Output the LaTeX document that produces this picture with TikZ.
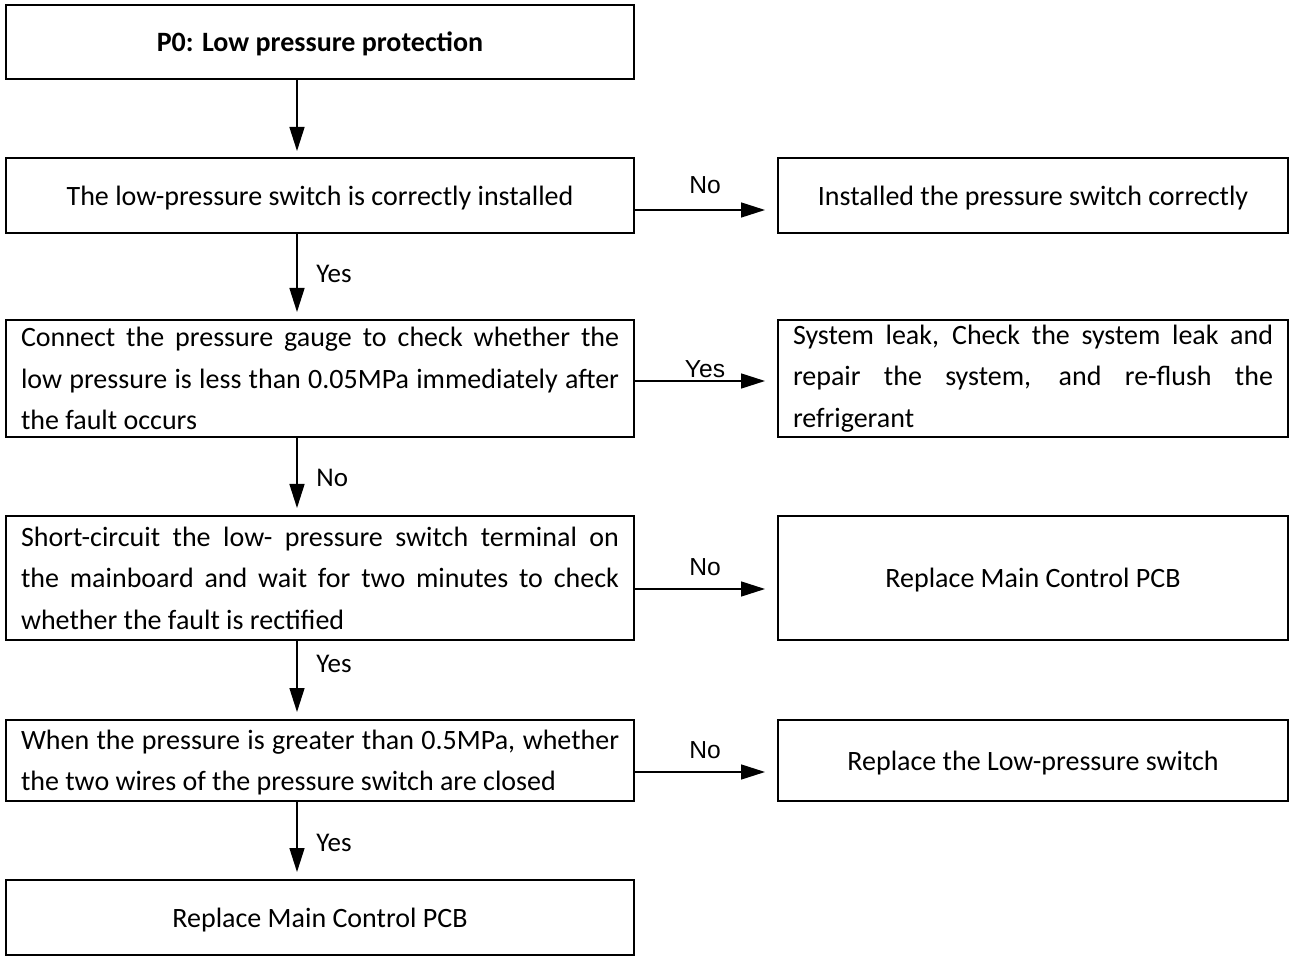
\documentclass[tikz,border=0pt]{standalone}
\usepackage{fontspec}
\setmainfont{Carlito}
\newfontfamily\arialf{Liberation Sans}
\usetikzlibrary{arrows.meta}
\newcommand\myjl[1]{\makebox[299pt][s]{#1}}
\newcommand\myjr[1]{\makebox[240pt][s]{#1}}
\newcommand\myll[1]{\makebox[299pt][l]{#1}}
\newcommand\mylr[1]{\makebox[240pt][l]{#1}}
\begin{document}
\begin{tikzpicture}[x=0.5pt,y=-0.5pt,
  box/.style={draw,line width=1pt,rectangle,inner sep=0pt,align=left,font=\fontsize{14}{20.75}\selectfont},
  lbox/.style={box,minimum width=314pt},
  rbox/.style={box,minimum width=255pt},
  one/.style={text height=10pt,text depth=0pt},
  arr/.style={draw,line width=0.75pt,-{Triangle[length=12pt,width=7.5pt]}},
  vlab/.style={font=\fontsize{13.5}{14}\selectfont,anchor=west,inner sep=0pt},
  hlab/.style={font=\arialf\fontsize{12.3}{14}\selectfont,inner sep=0pt}]
\useasboundingbox (0,0) rectangle (1290,956);
% left column
\node[lbox,one,minimum height=37pt] (b1) at (320,42) {\textbf{P0: Low pressure protection}};
\node[lbox,one,minimum height=37.5pt] (b2) at (320,195.5) {The low-pressure switch is correctly installed};
\node[lbox,minimum height=58.5pt] (b3) at (320,378.5) {\myjl{Connect the pressure gauge to check whether the}\\\myjl{low pressure is less than 0.05MPa immediately after}\\\myll{the fault occurs}};
\node[lbox,minimum height=62pt] (b4) at (320,578) {\myjl{Short-circuit the low- pressure switch terminal on}\\\myjl{the mainboard and wait for two minutes to check}\\\myll{whether the fault is rectified}};
\node[lbox,text depth=0pt,minimum height=40.5pt] (b5) at (320,760.5) {\myjl{When the pressure is greater than 0.5MPa, whether}\\\myll{the two wires of the pressure switch are closed}};
\node[lbox,one,minimum height=37.5pt] (b6) at (320,917.5) {Replace Main Control PCB};
% right column
\node[rbox,one,minimum height=37.5pt] (r1) at (1033,195.5) {Installed the pressure switch correctly};
\node[rbox,minimum height=58.5pt] (r2) at (1033,378.5) {\myjr{System leak, Check the system leak and}\\\myjr{repair the system, and re-flush the}\\\mylr{refrigerant}};
\node[rbox,one,minimum height=62pt] (r3) at (1033,578) {Replace Main Control PCB};
\node[rbox,one,minimum height=40.5pt] (r4) at (1033,760.5) {Replace the Low-pressure switch};
% vertical arrows
\coordinate (vx) at (297,0);
\draw[arr,shorten >=3pt] (b1.south -| vx) -- (b2.north -| vx);
\draw[arr,shorten >=3.5pt] (b2.south -| vx) -- (b3.north -| vx);
\draw[arr,shorten >=3.5pt] (b3.south -| vx) -- (b4.north -| vx);
\draw[arr,shorten >=3.5pt] (b4.south -| vx) -- (b5.north -| vx);
\draw[arr,shorten >=3.5pt] (b5.south -| vx) -- (b6.north -| vx);
\node[vlab] (v2) at (316,274) {Yes};
\node[vlab] (v3) at (316,478) {No};
\node[vlab] (v4) at (316,664) {Yes};
\node[vlab] (v5) at (316,843) {Yes};
% horizontal arrows
\coordinate (h1) at (0,210);
\coordinate (h2) at (0,381);
\coordinate (h3) at (0,589);
\coordinate (h4) at (0,772);
\draw[arr,shorten >=6pt] (b2.east |- h1) -- (r1.west |- h1);
\draw[arr,shorten >=6pt] (b3.east |- h2) -- (r2.west |- h2);
\draw[arr,shorten >=6pt] (b4.east |- h3) -- (r3.west |- h3);
\draw[arr,shorten >=6pt] (b5.east |- h4) -- (r4.west |- h4);
\node[hlab] (l1) at (705,185) {No};
\node[hlab] (l2) at (705,369) {Yes};
\node[hlab] (l3) at (705,567) {No};
\node[hlab] (l4) at (705,750) {No};
\end{tikzpicture}
\end{document}
